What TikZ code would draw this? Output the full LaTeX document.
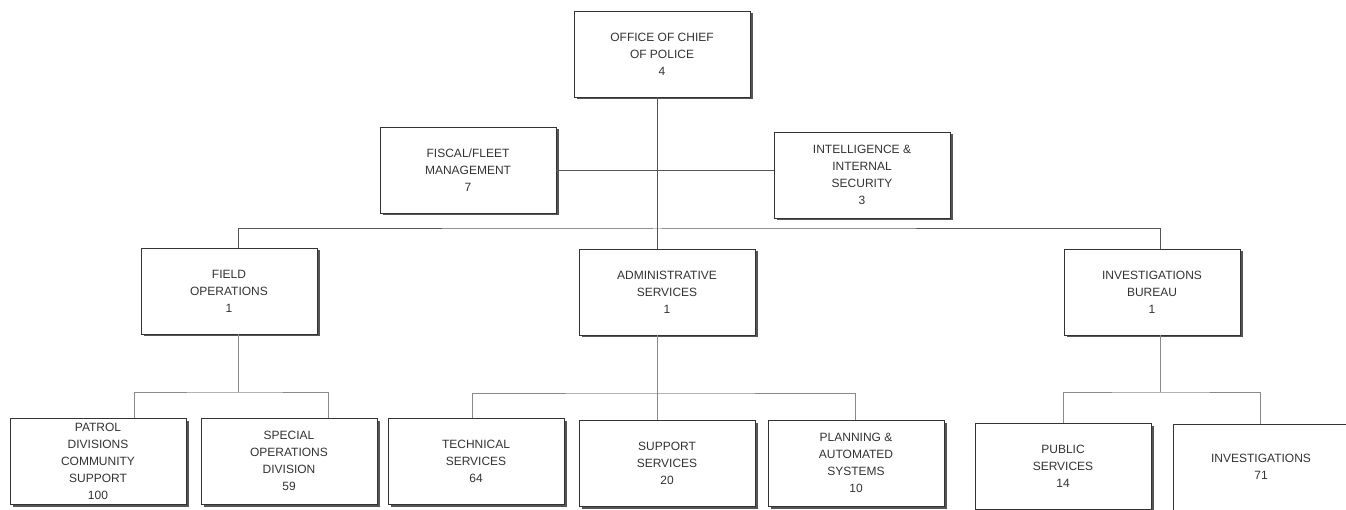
\documentclass[tikz,border=0pt]{standalone}
\usepackage{fontspec}
\setmainfont{Liberation Sans}
\usepackage{xcolor}
\usepackage{tikz}
\usetikzlibrary{shadows}
\definecolor{ChartInk}{HTML}{333333}
\definecolor{ChartLine}{HTML}{555555}
\definecolor{ChartSub}{HTML}{8A8A8A}

\begin{document}
\begin{tikzpicture}[
	x=1pt, y=-1pt,
	box/.style={draw=ChartInk, line width=0.9pt, fill=white, align=center,
		minimum width=176pt, minimum height=86pt, inner sep=2pt,
		text=ChartInk, font=\fontsize{12}{17}\selectfont,
		drop shadow={shadow xshift=2.5pt, shadow yshift=-2.5pt, fill=ChartLine, opacity=1}},
	link/.style={draw=ChartLine, line width=1pt},
	sublink/.style={draw=ChartSub, line width=1pt}
]
\useasboundingbox (0,0) rectangle (1346,510);

% top of the chart
\node[box] (chief) at (662,54) {OFFICE OF CHIEF\\OF POLICE\\4};
\node[box] (fiscal) at (468,170) {FISCAL/FLEET\\MANAGEMENT\\7};
\node[box] (intel) at (862,175) {INTELLIGENCE \&\\INTERNAL\\SECURITY\\3};

% bureaus
\node[box] (field) at (229,291) {FIELD\\OPERATIONS\\1};
\node[box] (admin) at (667,292) {ADMINISTRATIVE\\SERVICES\\1};
\node[box] (invbureau) at (1152,292) {INVESTIGATIONS\\BUREAU\\1};

% divisions
\node[box] (patrol) at (98,461) {PATROL\\DIVISIONS\\COMMUNITY\\SUPPORT\\100};
\node[box] (special) at (289,461) {SPECIAL\\OPERATIONS\\DIVISION\\59};
\node[box] (technical) at (476,461) {TECHNICAL\\SERVICES\\64};
\node[box] (support) at (667,463) {SUPPORT\\SERVICES\\20};
\node[box] (planning) at (856,463) {PLANNING \&\\AUTOMATED\\SYSTEMS\\10};
\node[box] (public) at (1063,466) {PUBLIC\\SERVICES\\14};
\node[box] (investigations) at (1261,467) {INVESTIGATIONS\\71};

% junctions
\coordinate (spine) at (657,229);
\coordinate (fieldbus) at (238,392);
\coordinate (adminbus) at (657,393);
\coordinate (invbus) at (1160,392);

\draw[link] (chief.south -| spine) -- (spine);
\draw[link] (fiscal.east |- 0,171) -- (intel.west |- 0,171);
\draw[link] (field.north -| fieldbus) |- (spine) -| (invbureau.north -| invbus);
\draw[link] (spine) -- (admin.north -| spine);

\draw[sublink] (field.south -| fieldbus) -- (fieldbus);
\draw[sublink] (patrol.north -| 134,0) |- (fieldbus) -| (special.north -| 328,0);

\draw[sublink] (admin.south -| adminbus) -- (support.north -| adminbus);
\draw[sublink] (technical.north -| 472,0) |- (adminbus) -| (planning.north -| 855,0);

\draw[sublink] (invbureau.south -| invbus) -- (invbus);
\draw[sublink] (public.north) |- (invbus) -| (investigations.north -| 1260,0);
\end{tikzpicture}
\end{document}
